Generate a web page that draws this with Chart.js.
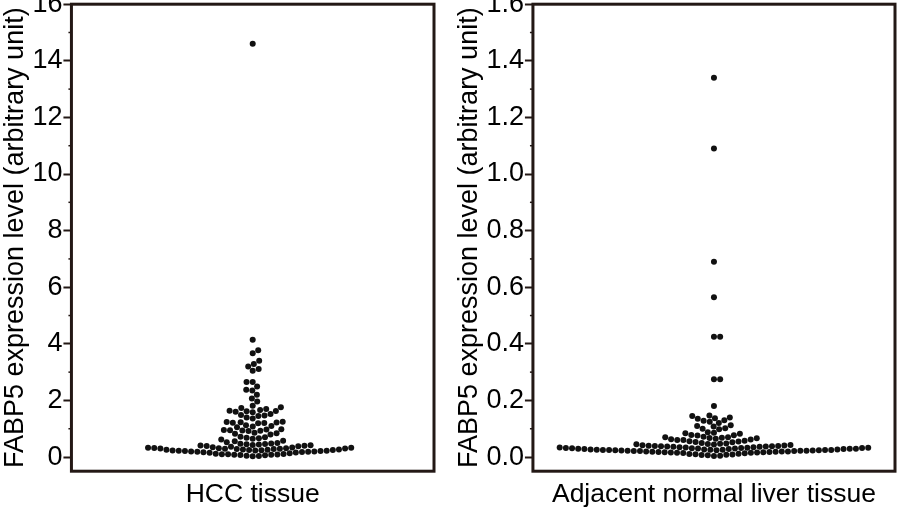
<!DOCTYPE html>
<html>
<head>
<meta charset="utf-8">
<script src="https://cdn.jsdelivr.net/npm/chart.js@4/dist/chart.umd.min.js"></script>
<style>
  html, body { margin: 0; padding: 0; background: #fff; overflow: hidden; }
  body { width: 897px; height: 509px; position: relative; }
  .panel { position: absolute; top: -13px; height: 524px; }
  #leftBox { left: -1px; width: 438px; }
  #rightBox { left: 453px; width: 445px; }
</style>
</head>
<body>
<div class="panel" id="leftBox"><canvas id="hccChart"></canvas></div>
<div class="panel" id="rightBox"><canvas id="normalChart"></canvas></div>
<script>
// ---------- DATA ----------
const yTitle = 'FABP5 expression level (arbitrary unit)';

// HCC tissue
const hccLabel = 'HCC tissue';
const hccHigh = [14.6, 4.14, 3.77, 3.67, 3.40, 3.29, 3.20, 3.11, 3.05, 2.65, 2.65,
    2.49, 2.38, 2.35, 2.20, 2.07, 1.96];
const hccMid = [1.81, 1.76, 1.73, 1.70, 1.66, 1.64, 1.63, 1.62, 1.60, 1.58,
    1.52, 1.49, 1.47, 1.45, 1.40, 1.36,
    1.25, 1.24, 1.23, 1.22, 1.21, 1.20, 1.19,
    1.12, 1.10, 1.08, 1.05,
    0.98, 0.97, 0.96, 0.95, 0.94, 0.93, 0.92,
    0.86, 0.84, 0.82, 0.80,
    0.72, 0.70, 0.68, 0.66, 0.65, 0.62, 0.58, 0.56];
const hccLow = [0.03, 0.04, 0.05, 0.06, 0.07, 0.08, 0.08, 0.09, 0.10, 0.10, 0.11, 0.12, 0.13,
    0.15, 0.16, 0.17, 0.18, 0.19, 0.19, 0.20, 0.20, 0.21, 0.21, 0.22, 0.22, 0.23, 0.23,
    0.24, 0.25, 0.25, 0.26, 0.26, 0.27, 0.27, 0.28, 0.28, 0.29, 0.29, 0.30, 0.30, 0.31,
    0.31, 0.32, 0.33, 0.33, 0.34, 0.35, 0.36,
    0.38, 0.39, 0.40, 0.41, 0.42, 0.43, 0.44, 0.45, 0.46, 0.47, 0.48, 0.50, 0.52];
const hccTicks = [0, 2, 4, 6, 8, 10, 12, 14, 16];
const hccMinor = [1, 3, 5, 7, 9, 11, 13, 15];

// Adjacent normal liver tissue
const normalLabel = 'Adjacent normal liver tissue';
const normalHigh = [1.34, 1.09, 0.69, 0.565, 0.425, 0.425, 0.275, 0.275, 0.18];
const normalMid = [0.147, 0.145, 0.14, 0.137, 0.135, 0.13, 0.128, 0.125, 0.12, 0.112, 0.11,
    0.108, 0.102, 0.10, 0.098, 0.088, 0.086, 0.084, 0.082, 0.078, 0.077, 0.076,
    0.072, 0.07, 0.07, 0.068, 0.067, 0.066, 0.065, 0.063, 0.062, 0.06, 0.06, 0.058, 0.056,
    0.055, 0.053, 0.052, 0.05, 0.048, 0.047, 0.046, 0.045, 0.044, 0.043, 0.042, 0.041];
const normalLow = [0.004, 0.005, 0.006, 0.007, 0.008, 0.009, 0.010, 0.011, 0.012, 0.013,
    0.014, 0.015, 0.015, 0.016, 0.016, 0.017, 0.017, 0.018, 0.018, 0.019, 0.019, 0.020,
    0.020, 0.020, 0.021, 0.021, 0.021, 0.022, 0.022, 0.022, 0.023, 0.023, 0.024, 0.024,
    0.024, 0.025, 0.025, 0.025, 0.025, 0.026, 0.026, 0.026, 0.027, 0.027, 0.027, 0.028,
    0.028, 0.028, 0.029, 0.029, 0.029, 0.030, 0.030, 0.031, 0.031, 0.032, 0.032, 0.032,
    0.033, 0.033, 0.034, 0.034, 0.035, 0.035, 0.036, 0.036, 0.037, 0.037, 0.038, 0.038,
    0.039, 0.039, 0.040];
const normalTicks = [0, 0.2, 0.4, 0.6, 0.8, 1.0, 1.2, 1.4, 1.6];
const normalMinor = [0.1, 0.3, 0.5, 0.7, 0.9, 1.1, 1.3, 1.5];

// ---------- helpers ----------
const INK = '#231815';
const FONT = "'Liberation Sans', Arial, Helvetica, sans-serif";
const DOT = 6.2; // dot spacing in px for the swarm

// frame around the plot + short minor ticks
const framePlugin = {
    id: 'frame',
    afterDraw(chart, args, opts) {
        const { ctx, chartArea: a } = chart;
        const y = chart.scales.y;
        ctx.save();
        ctx.strokeStyle = INK;
        ctx.lineWidth = 1.5;
        (opts.minor || []).forEach(v => {
            const py = y.getPixelForValue(v);
            ctx.beginPath();
            ctx.moveTo(a.left - 3, py);
            ctx.lineTo(a.left, py);
            ctx.stroke();
        });
        ctx.lineWidth = 3;
        ctx.strokeRect(a.left, a.top, a.right - a.left, a.bottom - a.top);
        ctx.restore();
    }
};

// simple beeswarm: place each point as near the centre as it can go
function swarm(values, chart) {
    const xs = chart.scales.x, ys = chart.scales.y;
    const pts = values.map(v => ({ v, py: ys.getPixelForValue(v) }))
        .sort((a, b) => a.v - b.v);
    const placed = [];
    pts.forEach(p => {
        const cands = [0];
        placed.forEach(q => {
            const dy = Math.abs(q.py - p.py);
            if (dy < DOT) {
                const dx = Math.sqrt(DOT * DOT - dy * dy);
                cands.push(q.px + dx, q.px - dx);
            }
        });
        cands.sort((a, b) => Math.abs(a) - Math.abs(b));
        for (const c of cands) {
            const ok = placed.every(q => (q.px - c) ** 2 + (q.py - p.py) ** 2 >= DOT * DOT - 0.01);
            if (ok) { p.px = c; break; }
        }
        placed.push(p);
    });
    const cx = (xs.left + xs.right) / 2;
    return placed.map(p => ({ x: xs.getValueForPixel(cx + p.px), y: p.v }));
}

function makeChart(id, opts) {
    const chart = new Chart(document.getElementById(id), {
        type: 'scatter',
        data: {
            datasets: [{
                data: [],
                pointRadius: 3,
                pointHoverRadius: 3,
                pointBackgroundColor: '#111',
                pointBorderWidth: 0
            }]
        },
        options: {
            responsive: true,
            maintainAspectRatio: false,
            animation: false,
            layout: { padding: { right: 2, left: 0, top: 0, bottom: 0 } },
            plugins: {
                legend: { display: false },
                tooltip: { enabled: false },
                frame: { minor: opts.minor }
            },
            scales: {
                x: {
                    type: 'linear', min: -1, max: 1,
                    grid: { display: false, drawTicks: false },
                    border: { display: false },
                    ticks: { display: false },
                    title: {
                        display: true, text: opts.xLabel, color: '#000',
                        font: { family: FONT, size: 26.5 },
                        padding: { top: 8, bottom: 0 }
                    }
                },
                y: {
                    min: opts.min, max: opts.max,
                    afterBuildTicks: s => { s.ticks = opts.ticks.map(v => ({ value: v })); },
                    grid: {
                        drawOnChartArea: false, drawTicks: true,
                        tickLength: 8, tickWidth: 2, tickColor: INK
                    },
                    border: { display: false },
                    ticks: {
                        color: '#000', padding: 1,
                        font: { family: FONT, size: 27 },
                        callback: opts.fmt
                    },
                    title: {
                        display: true, text: yTitle, color: '#000',
                        font: { family: FONT, size: 27 },
                        padding: { top: 0, bottom: 0 }
                    }
                }
            }
        },
        plugins: [framePlugin]
    });
    chart.data.datasets[0].data = swarm(opts.values, chart);
    chart.update();
    return chart;
}

makeChart('hccChart', {
    xLabel: hccLabel, min: -0.5, max: 16, ticks: hccTicks, minor: hccMinor,
    values: [...hccHigh, ...hccMid, ...hccLow],
    fmt: v => String(v)
});

makeChart('normalChart', {
    xLabel: normalLabel, min: -0.05, max: 1.6, ticks: normalTicks, minor: normalMinor,
    values: [...normalHigh, ...normalMid, ...normalLow],
    fmt: v => Number(v).toFixed(1)
});
</script>
</body>
</html>
